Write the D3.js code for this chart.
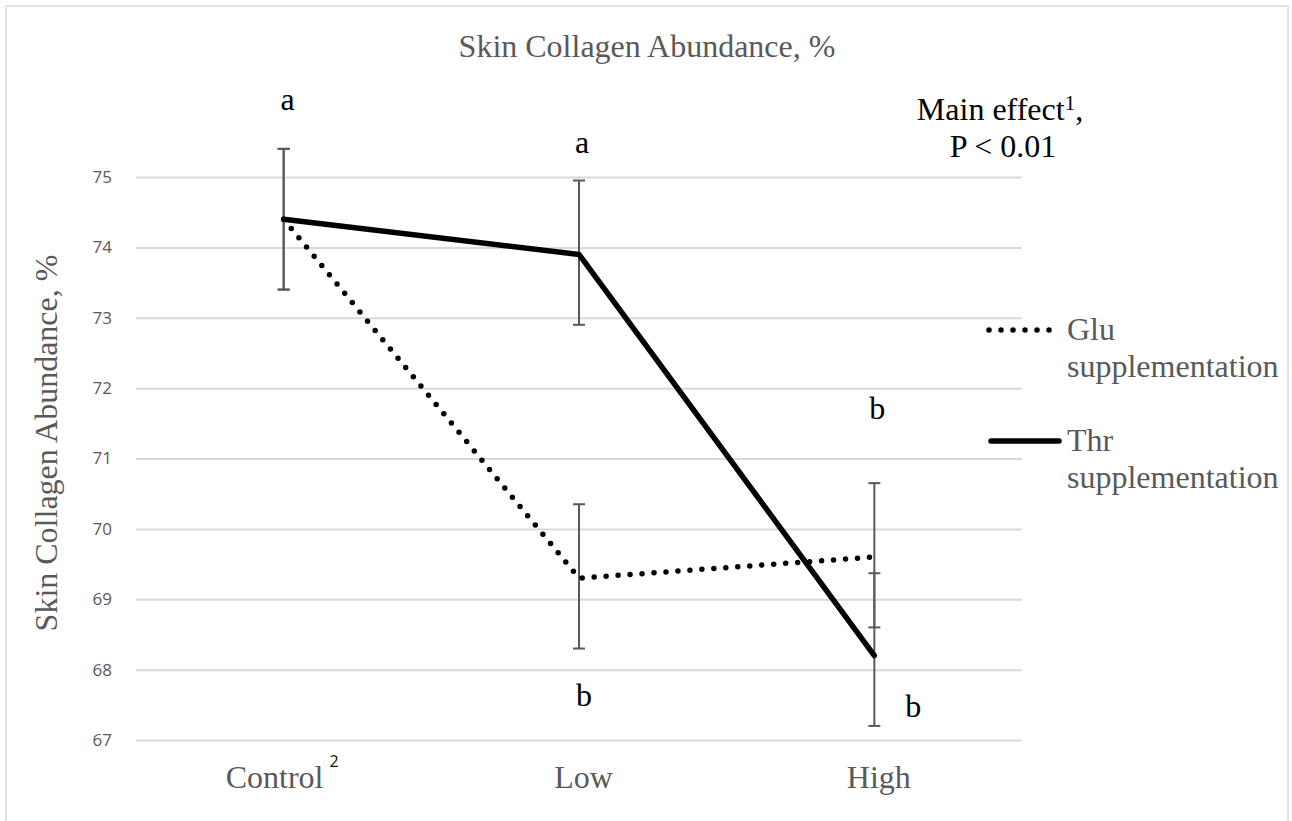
<!DOCTYPE html>
<html>
<head>
<meta charset="utf-8">
<script src="https://cdn.jsdelivr.net/npm/d3@7"></script>
<style>
  body { margin: 0; background: #fff; }
  svg { display: block; }
</style>
</head>
<body>
<div id="chart"></div>
<script>
// chart values
var categories = ["Control", "Low", "High"];
var yTicks = [67, 68, 69, 70, 71, 72, 73, 74, 75];
var gluValues = [74.4, 69.3, 69.6];
var gluErrUp = [1.0, 1.05, 1.05];
var gluErrDown = [1.0, 1.0, 1.0];
var thrValues = [74.4, 73.9, 68.2];
var thrErrUp = [1.0, 1.05, 1.17];
var thrErrDown = [1.0, 1.0, 1.0];
var letterText = ["a", "a", "b", "b", "b"];
var letterCats = ["Control", "Low", "Low", "High", "High"];

var W = 1292, H = 821;
var serif = "'Liberation Serif', 'Times New Roman', serif";
var sans = "'Open Sans', 'Noto Sans', sans-serif";
var grey = "#595959";

var svg = d3
  .select("#chart")
  .append("svg")
  .attr("width", W)
  .attr("height", H);

svg.append("rect")
  .attr("width", W).attr("height", H)
  .attr("fill", "#fff");

// chart border
svg.append("rect")
  .attr("x", 6).attr("y", 6)
  .attr("width", 1282).attr("height", 840)
  .attr("fill", "none")
  .attr("stroke", "#d9d9d9")
  .attr("stroke-width", 1.5);

var x = d3.scalePoint().domain(categories).range([136, 1022]).padding(0.5);
var y = d3.scaleLinear().domain([67, 75]).range([740, 177]);

// gridlines + y tick labels
var yAxis = svg.append("g")
  .attr("transform", "translate(136,0)")
  .call(d3.axisLeft(y).tickValues(yTicks).tickSize(-886).tickPadding(24));
yAxis.select(".domain").remove();
yAxis.selectAll(".tick line")
  .attr("stroke", "#d9d9d9")
  .attr("stroke-width", 2);
yAxis.selectAll(".tick text")
  .attr("fill", grey)
  .style("font-family", sans)
  .style("font-size", "17px");

// x labels
var xAxis = svg.append("g")
  .attr("transform", "translate(4,740)")
  .call(d3.axisBottom(x).tickSize(0).tickPadding(0));
xAxis.select(".domain").remove();
xAxis.selectAll(".tick text").remove();
xAxis.selectAll(".tick").each(function (d) {
  var t = d3.select(this).append("text")
    .attr("y", 48)
    .attr("text-anchor", "middle")
    .attr("fill", grey)
    .style("font-family", serif)
    .style("font-size", "32px")
    .text(d);
  if (d == "Control") {
    t.attr("x", -6);
    t.append("tspan")
      .attr("dx", 6)
      .attr("dy", -21)
      .attr("fill", "#111")
      .style("font-family", sans)
      .style("font-size", "16px")
      .text("2");
  }
});

// title
svg.append("text")
  .attr("x", 647).attr("y", 57)
  .attr("text-anchor", "middle")
  .attr("fill", grey)
  .style("font-family", serif)
  .style("font-size", "32px")
  .text("Skin Collagen Abundance, %");

// y axis title
svg.append("text")
  .attr("transform", "translate(57,443) rotate(-90)")
  .attr("text-anchor", "middle")
  .attr("fill", grey)
  .style("font-family", serif)
  .style("font-size", "32px")
  .text("Skin Collagen Abundance, %");

var series = [
  { name: "Glu", values: gluValues, up: gluErrUp, down: gluErrDown, dash: "0,12" },
  { name: "Thr", values: thrValues, up: thrErrUp, down: thrErrDown, dash: null }
];

// error bars
series.forEach(function (s) {
  var g = svg.append("g").attr("stroke", grey).attr("stroke-width", 2);
  categories.forEach(function (c, i) {
    var cx = x(c), lo = y(s.values[i] - s.down[i]), hi = y(s.values[i] + s.up[i]);
    g.append("line").attr("x1", cx).attr("x2", cx).attr("y1", lo).attr("y2", hi);
    g.append("line").attr("x1", cx - 6).attr("x2", cx + 6).attr("y1", lo).attr("y2", lo);
    g.append("line").attr("x1", cx - 6).attr("x2", cx + 6).attr("y1", hi).attr("y2", hi);
  });
});

// lines
var line = d3.line()
  .x(function (d, i) { return x(categories[i]); })
  .y(function (d) { return y(d); });

series.forEach(function (s) {
  svg.append("path")
    .datum(s.values)
    .attr("d", line)
    .attr("fill", "none")
    .attr("stroke", "#000")
    .attr("stroke-width", 5.5)
    .attr("stroke-linecap", "round")
    .attr("stroke-linejoin", "round")
    .attr("stroke-dasharray", s.dash);
});

// significance letters
var letterPos = [
  { dx: 4, v: 75.95 },
  { dx: 3, v: 75.34 },
  { dx: 5, v: 67.49 },
  { dx: 3, v: 71.56 },
  { dx: 39, v: 67.33 }
];
letterText.forEach(function (t, i) {
  svg.append("text")
    .attr("x", x(letterCats[i]) + letterPos[i].dx)
    .attr("y", y(letterPos[i].v))
    .attr("text-anchor", "middle")
    .attr("fill", "#000")
    .style("font-family", serif)
    .style("font-size", "32px")
    .text(t);
});

// main effect note
var note = svg.append("text")
  .attr("text-anchor", "middle")
  .attr("fill", "#000")
  .style("font-family", serif)
  .style("font-size", "32px");
var l1 = note.append("tspan").attr("x", 1000).attr("y", 120);
l1.append("tspan").text("Main effect");
l1.append("tspan").attr("dy", -10).style("font-size", "21px").text("1");
l1.append("tspan").attr("dy", 10).text(",");
note.append("tspan").attr("x", 1003).attr("y", 157).text("P < 0.01");

// legend
var legendY = [330, 441];
series.forEach(function (s, i) {
  var g = svg.append("g").attr("transform", "translate(0," + legendY[i] + ")");
  g.append("line")
    .attr("x1", s.dash ? 989 : 991).attr("x2", s.dash ? 1055 : 1059)
    .attr("stroke", "#000")
    .attr("stroke-width", 5.5)
    .attr("stroke-linecap", "round")
    .attr("stroke-dasharray", s.dash);
  var t = g.append("text")
    .attr("fill", grey)
    .style("font-family", serif)
    .style("font-size", "32px");
  t.append("tspan").attr("x", 1067).attr("y", 10).text(s.name);
  t.append("tspan").attr("x", 1067).attr("y", 46.5).text("supplementation");
});
</script>
</body>
</html>
